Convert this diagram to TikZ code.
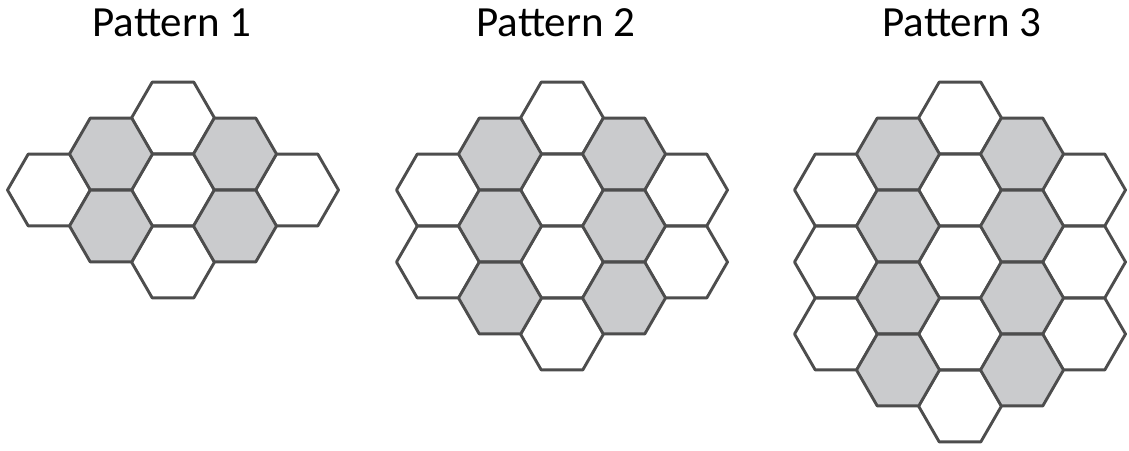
\documentclass[tikz,border=0pt]{standalone}
\usepackage{fontspec}
\setmainfont{Carlito}
\usetikzlibrary{shapes.geometric}
\definecolor{HexLine}{HTML}{4D4D4D}
\definecolor{HexShade}{HTML}{CACBCD}
\tikzset{
  hexcell/.style={regular polygon,regular polygon sides=6,minimum size=83pt,
    inner sep=0pt,draw=HexLine,line width=2.9pt,line join=round,fill=white},
  hexgray/.style={hexcell,fill=HexShade},
  patlabel/.style={font=\fontsize{43}{50}\selectfont,anchor=base,inner sep=0pt}
}
\begin{document}
\begin{tikzpicture}[x=1pt,y=-1pt]
  \useasboundingbox[fill=white] (0,0) rectangle (1129,450);
  % the three patterns: n, centre column x, label x
  \foreach \n/\cx/\lx in {1/173/172, 2/562/556, 3/960/962}{
    \node[patlabel] (title\n) at (\lx,36) {Pattern \n};
    % white middle column
    \foreach \j in {0,...,\numexpr\n+1\relax}
      \node[hexcell] (p\n-c3-\j) at (\cx,118+72*\j) {};
    % outer white columns
    \foreach \j in {0,...,\numexpr\n-1\relax}{
      \node[hexcell] (p\n-c1-\j) at (\cx-124,190+72*\j) {};
      \node[hexcell] (p\n-c5-\j) at (\cx+124,190+72*\j) {};
    }
    % shaded columns
    \foreach \j in {0,...,\n}{
      \node[hexgray] (p\n-c2-\j) at (\cx-62,154+72*\j) {};
      \node[hexgray] (p\n-c4-\j) at (\cx+62,154+72*\j) {};
    }
  }
\end{tikzpicture}
\end{document}
